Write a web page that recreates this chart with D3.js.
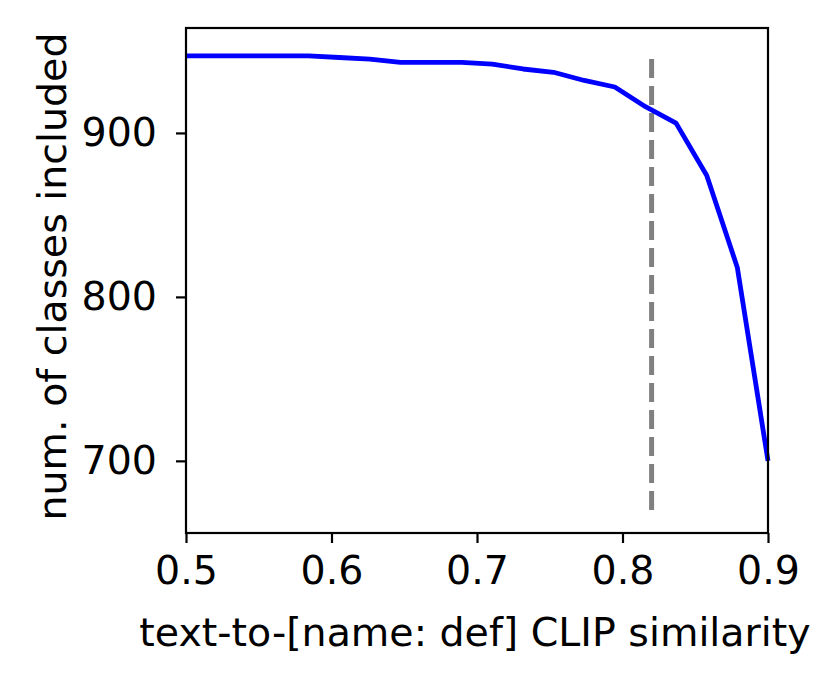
<!DOCTYPE html>
<html>
<head>
<meta charset="utf-8">
<script src="https://cdn.jsdelivr.net/npm/d3@7"></script>
<style>
  body { margin: 0; background: #fff; }
  svg { display: block; font-family: "DejaVu Sans", sans-serif; }
</style>
</head>
<body>
<script>
// similarity thresholds (20 steps from 0.5 to 0.9)
const thresholds = [0.5, 0.5211, 0.5421, 0.5632, 0.5842, 0.6053, 0.6263, 0.6474, 0.6684, 0.6895,
  0.7105, 0.7316, 0.7526, 0.7737, 0.7947, 0.8158, 0.8368, 0.8579, 0.8789, 0.9];
// number of classes kept at each threshold
const numClasses = [947, 947, 947, 947, 947, 946, 945, 943, 943, 943,
  942, 939, 937, 932, 928, 916, 906, 874, 818, 700];
// vertical reference line
const cutoff = 0.82;
const cutoffRange = [670, 950];

const xTicks = [0.5, 0.6, 0.7, 0.8, 0.9];
const yTicks = [700, 800, 900];

const W = 829, H = 683;
const m = {left: 186, top: 28, right: 829 - 768, bottom: 683 - 533};
const fs = "39.5px";

const svg = d3.select("body").append("svg")
  .attr("width", W)
  .attr("height", H);

const x = d3.scaleLinear()
  .domain([0.5, 0.9])
  .range([m.left, W - m.right]);

const y = d3.scaleLinear()
  .domain([656, 964])
  .range([H - m.bottom, m.top]);

// dashed cutoff line
svg.append("line")
  .attr("x1", x(cutoff)).attr("x2", x(cutoff))
  .attr("y1", y(cutoffRange[0])).attr("y2", y(cutoffRange[1]))
  .attr("stroke", "#808080")
  .attr("stroke-width", 5)
  .attr("stroke-dasharray", "19,8");

// courbe
const line = d3.line()
  .x((d, i) => x(thresholds[i]))
  .y(d => y(d));

svg.append("path")
  .datum(numClasses)
  .attr("d", line)
  .attr("fill", "none")
  .attr("stroke", "#0000ff")
  .attr("stroke-width", 4.8)
  .attr("stroke-linejoin", "round");

// cadre
svg.append("rect")
  .attr("x", m.left).attr("y", m.top)
  .attr("width", W - m.left - m.right)
  .attr("height", H - m.top - m.bottom)
  .attr("fill", "none")
  .attr("stroke", "#000")
  .attr("stroke-width", 2.2);

// axes
const xAxis = svg.append("g")
  .attr("transform", `translate(0,${H - m.bottom})`)
  .call(d3.axisBottom(x).tickValues(xTicks).tickFormat(d3.format(".1f")).tickSize(10).tickPadding(13));

const yAxis = svg.append("g")
  .attr("transform", `translate(${m.left},0)`)
  .call(d3.axisLeft(y).tickValues(yTicks).tickSize(10).tickPadding(19));

[xAxis, yAxis].forEach(g => {
  g.select(".domain").remove();
  g.selectAll(".tick line").attr("stroke", "#000").attr("stroke-width", 2.2);
  g.selectAll(".tick text")
    .attr("fill", "#000")
    .style("font-size", fs)
    .style("font-family", "DejaVu Sans");
});

// titres des axes
svg.append("text")
  .attr("x", (m.left + W - m.right) / 2 - 2)
  .attr("y", 646)
  .attr("text-anchor", "middle")
  .style("font-size", fs)
  .text("text-to-[name: def] CLIP similarity");

svg.append("text")
  .attr("transform", `translate(66,${(m.top + H - m.bottom) / 2 - 4}) rotate(-90)`)
  .attr("text-anchor", "middle")
  .style("font-size", fs)
  .text("num. of classes included");
</script>
</body>
</html>
